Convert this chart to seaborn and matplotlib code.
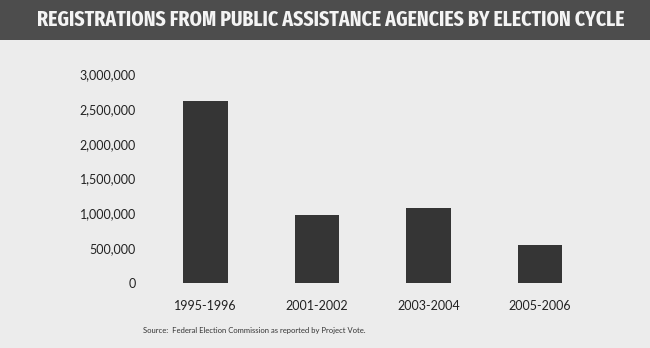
import matplotlib
matplotlib.use("Agg")
import matplotlib.pyplot as plt
import seaborn as sns
import pandas as pd
from matplotlib.patches import Rectangle
from matplotlib.ticker import FuncFormatter

cycles = ["1995-1996", "2001-2002", "2003-2004", "2005-2006"]
registrations = [2610000, 970000, 1070000, 540000]
yticks = [0, 500000, 1000000, 1500000, 2000000, 2500000, 3000000]
title = "REGISTRATIONS FROM PUBLIC ASSISTANCE AGENCIES BY ELECTION CYCLE"
source = "Source:  Federal Election Commission as reported by Project Vote."

sns.set_style("white")
plt.rcParams["font.family"] = ["Lato", "DejaVu Sans"]

bg = "#ececec"
fig = plt.figure(figsize=(6.5, 3.48), dpi=100, facecolor=bg)
ax = fig.add_axes([149.75 / 650, (348 - 283) / 348, 446 / 650, (283 - 74) / 348])
ax.set_facecolor(bg)

df = pd.DataFrame({"cycle": cycles, "value": registrations})
sns.barplot(data=df, x="cycle", y="value", color="#353535", width=0.4,
            saturation=1, linewidth=0, ax=ax)

ax.set_xlim(-0.5, 3.5)
ax.set_ylim(0, 3000000)
ax.set_yticks(yticks)
ax.yaxis.set_major_formatter(FuncFormatter(lambda v, p: f"{int(v):,}"))
ax.set_xlabel("")
ax.set_ylabel("")
for s in ax.spines.values():
    s.set_visible(False)
ax.tick_params(axis="y", length=0, pad=10, labelsize=9, labelcolor="#222222")
ax.tick_params(axis="x", length=0, pad=12, labelsize=9, labelcolor="#222222")

# title band
fig.patches.append(Rectangle((0, 1 - 40 / 348), 1, 40 / 348, transform=fig.transFigure,
                             facecolor="#4d4d4d", edgecolor="none", zorder=0))
fig.text(331 / 650, 1 - 20 / 348, title, ha="center", va="center", color="#f4f4f4",
         fontsize=15.4, fontweight="bold",
         family=["Fira Sans Extra Condensed", "DejaVu Sans"])

fig.text(143 / 650, 1 - 331 / 348, source, ha="left", va="center", fontsize=5.5,
         color="#333333")

fig.savefig("out.png", dpi=100, facecolor=bg)
